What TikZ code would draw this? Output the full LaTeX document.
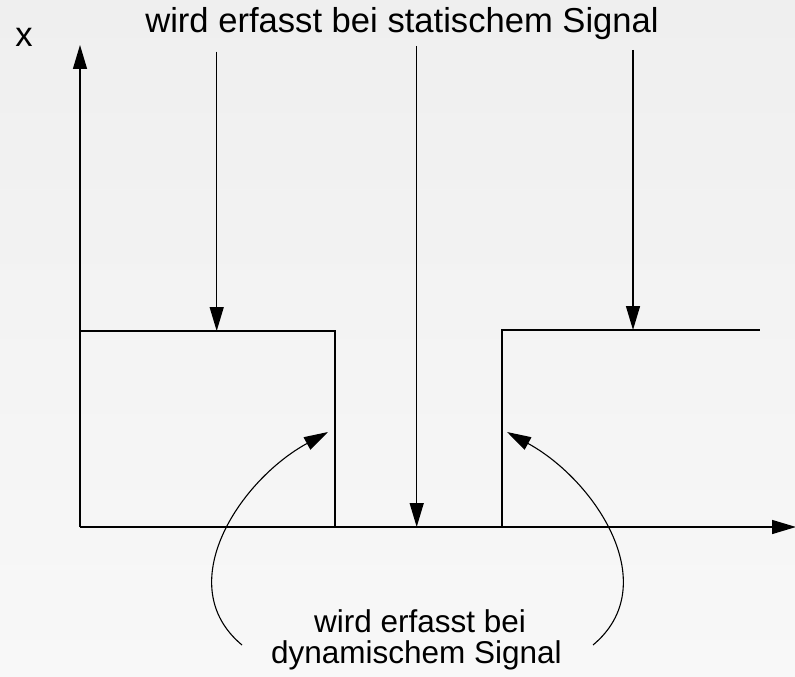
\documentclass[tikz,border=0pt]{standalone}
\usepackage{fontspec}
\setmainfont{Liberation Sans}
\usetikzlibrary{arrows.meta}
\definecolor{bgtop}{HTML}{EFEFEF}
\definecolor{bgbot}{HTML}{F8F8F8}
\begin{document}
\begin{tikzpicture}[x=1pt,y=-1pt,
  line/.style={line width=1.4pt,black},
  arr/.style={line, -{Triangle[length=24pt,width=14pt]}},
  lbl/.style={inner sep=0pt, anchor=base}]
\shade[top color=bgtop,bottom color=bgbot] (0,0) rectangle (795,677);
\useasboundingbox (0,0) rectangle (795,677);
% axes
\coordinate (O) at (80,527);
\coordinate (ytip) at (80,45);
\coordinate (xtip) at (796,527);
\draw[arr] (O) -- (ytip);
\draw[arr] (O) -- (xtip);
\node[lbl,font=\fontsize{34.6}{36}\selectfont] (xl) at (24,47) {x};
% signal
\coordinate (h1) at (80,331);
\coordinate (h2) at (335,331);
\coordinate (h3) at (335,527);
\coordinate (r1) at (502,527);
\coordinate (r2) at (502,330);
\coordinate (r3) at (760,330);
\draw[line] (h1) -- (h2) -- (h3);
\draw[line] (r1) -- (r2) -- (r3);
% top label and arrows
\node[lbl,font=\fontsize{34.6}{36}\selectfont] (top) at (402,33) {wird erfasst bei statischem Signal};
\coordinate (a1s) at (216.7,51.7);
\coordinate (a1e) at (216.7,331);
\coordinate (a2s) at (416.7,46);
\coordinate (a2e) at (416.7,527);
\coordinate (a3s) at (633,50);
\coordinate (a3e) at (633,330);
\draw[arr] (a1s) -- (a1e);
\draw[arr] (a2s) -- (a2e);
\draw[arr] (a3s) -- (a3e);
% bottom label and curved arrows
\node[lbl,font=\fontsize{31.5}{31}\selectfont] (bt1) at (420,632) {wird erfasst bei};
\node[lbl,font=\fontsize{31.5}{31}\selectfont] (bt2) at (416.5,663) {dynamischem Signal};
\coordinate (c1s) at (242,645);
\coordinate (c1e) at (328,432);
\coordinate (c2s) at (593,645);
\coordinate (c2e) at (507,432);
\draw[arr,line width=1.1pt] (c1s) .. controls (170,585) and (240,480) .. (c1e);
\draw[arr,line width=1.1pt] (c2s) .. controls (665,585) and (595,480) .. (c2e);
\end{tikzpicture}
\end{document}
